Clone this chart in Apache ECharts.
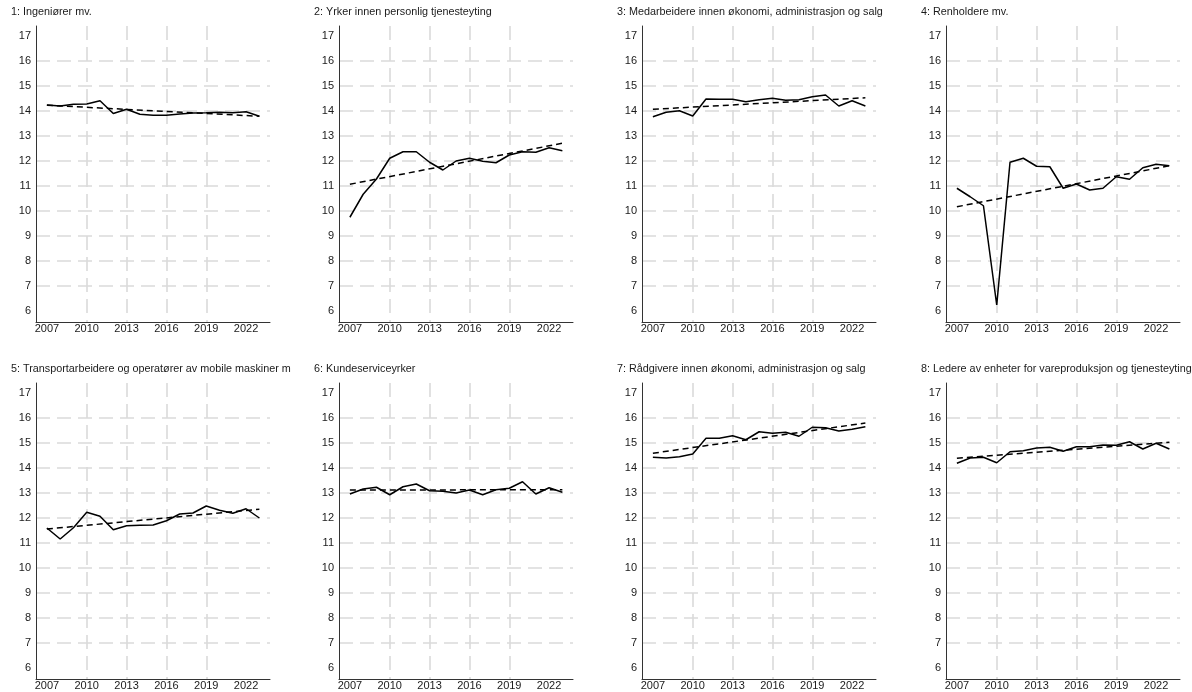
<!DOCTYPE html>
<html>
<head>
<meta charset="utf-8">
<script src="https://cdn.jsdelivr.net/npm/echarts@6/dist/echarts.min.js"></script>
<style>
  html, body { margin: 0; padding: 0; background: #fff; }
  #chart { width: 1192px; height: 692px; }
</style>
</head>
<body>
<div id="chart"></div>
<script>
// ---- data ----
const years = [2007, 2008, 2009, 2010, 2011, 2012, 2013, 2014, 2015, 2016, 2017, 2018, 2019, 2020, 2021, 2022, 2023];
const titles = [
  "1: Ingeniører mv.",
  "2: Yrker innen personlig tjenesteyting",
  "3: Medarbeidere innen økonomi, administrasjon og salg",
  "4: Renholdere mv.",
  "5: Transportarbeidere og operatører av mobile maskiner m",
  "6: Kundeserviceyrker",
  "7: Rådgivere innen økonomi, administrasjon og salg",
  "8: Ledere av enheter for vareproduksjon og tjenesteyting"
];
const ingeniorer   = [14.24, 14.20, 14.27, 14.28, 14.41, 13.90, 14.07, 13.87, 13.83, 13.83, 13.88, 13.92, 13.93, 13.95, 13.93, 13.97, 13.79];
const personlig    = [9.75, 10.67, 11.28, 12.11, 12.37, 12.37, 11.95, 11.64, 12.00, 12.11, 11.99, 11.93, 12.24, 12.37, 12.35, 12.53, 12.41];
const medarbeidere = [13.77, 13.95, 14.01, 13.80, 14.48, 14.47, 14.47, 14.37, 14.45, 14.51, 14.43, 14.45, 14.57, 14.64, 14.20, 14.41, 14.20];
const renholdere   = [10.91, 10.57, 10.21, 6.24, 11.95, 12.11, 11.79, 11.77, 10.91, 11.08, 10.84, 10.91, 11.37, 11.27, 11.73, 11.87, 11.81];
const transport    = [11.60, 11.16, 11.61, 12.23, 12.07, 11.53, 11.69, 11.71, 11.72, 11.89, 12.16, 12.20, 12.48, 12.31, 12.19, 12.37, 12.00];
const kundeservice = [12.96, 13.16, 13.23, 12.93, 13.25, 13.36, 13.09, 13.07, 13.00, 13.12, 12.93, 13.13, 13.19, 13.45, 12.96, 13.21, 13.03];
const radgivere    = [14.43, 14.40, 14.45, 14.56, 15.19, 15.19, 15.29, 15.13, 15.45, 15.39, 15.43, 15.27, 15.63, 15.61, 15.48, 15.55, 15.65];
const ledere       = [14.19, 14.40, 14.43, 14.21, 14.65, 14.69, 14.80, 14.83, 14.67, 14.85, 14.85, 14.92, 14.91, 15.05, 14.76, 14.99, 14.76];
// dashed trend lines: value at first and last year
const trendStart = [14.23, 11.07, 14.07, 10.17, 11.56, 13.12, 14.59, 14.39];
const trendEnd   = [13.79, 12.71, 14.53, 11.81, 12.35, 13.13, 15.80, 15.03];
const xLabelYears = [2007, 2010, 2013, 2016, 2019, 2022];
const xGridYears  = [2010, 2013, 2016, 2019];
const yLabelValues = [6, 7, 8, 9, 10, 11, 12, 13, 14, 15, 16, 17];
const yGridValues  = [7, 8, 9, 10, 11, 12, 13, 14, 15, 16];

const seriesValues = [ingeniorer, personlig, medarbeidere, renholdere, transport, kundeservice, radgivere, ledere];

// ---- layout ----
const lefts = [36, 339, 642, 946];
const tops = [26, 383];
const W = 234, H = 296;
const FONT = "Liberation Sans, Arial, Helvetica, sans-serif";

const grid = [], xAxis = [], yAxis = [], series = [], title = [];
for (let i = 0; i < 8; i++) {
  const col = i % 4, row = Math.floor(i / 4);
  grid.push({ left: lefts[col], top: tops[row], width: W, height: H, containLabel: false });
  title.push({
    text: titles[i],
    left: lefts[col] - 25,
    top: tops[row] - 20,
    textStyle: { fontFamily: FONT, fontSize: 10.8, fontWeight: 'normal', color: '#1a1a1a', lineHeight: 13 },
    padding: 0
  });
  xAxis.push({
    type: 'value', gridIndex: i, min: 2006.18, max: 2023.8,
    axisLine: { show: true, onZero: false, lineStyle: { color: '#333', width: 1 } },
    axisTick: { show: false, customValues: xGridYears },
    axisLabel: { customValues: xLabelYears, margin: 1, fontFamily: FONT, fontSize: 11, color: '#1a1a1a',
                 formatter: v => String(v) },
    splitLine: { show: true, lineStyle: { color: '#dadada', width: 1.6, type: [14, 7] } }
  });
  yAxis.push({
    type: 'value', gridIndex: i, min: 5.56, max: 17.4,
    axisLine: { show: true, onZero: false, lineStyle: { color: '#333', width: 1 } },
    axisTick: { show: false, customValues: yGridValues },
    axisLabel: { customValues: yLabelValues, margin: 5, fontFamily: FONT, fontSize: 11, color: '#1a1a1a' },
    splitLine: { show: true, lineStyle: { color: '#dadada', width: 1.6, type: [14, 7] } }
  });
  series.push({
    type: 'line', xAxisIndex: i, yAxisIndex: i, symbol: 'none', silent: true,
    data: years.map((y, k) => [y, seriesValues[i][k]]),
    lineStyle: { color: '#000', width: 1.5 }, z: 3
  });
  series.push({
    type: 'line', xAxisIndex: i, yAxisIndex: i, symbol: 'none', silent: true,
    data: [[years[0], trendStart[i]], [years[years.length - 1], trendEnd[i]]],
    lineStyle: { color: '#000', width: 1.5, type: [6, 4] }, z: 4
  });
}

const chart = echarts.init(document.getElementById('chart'), null, { renderer: 'canvas' });
chart.setOption({
  animation: false,
  backgroundColor: '#fff',
  title, grid, xAxis, yAxis, series
});
</script>
</body>
</html>
